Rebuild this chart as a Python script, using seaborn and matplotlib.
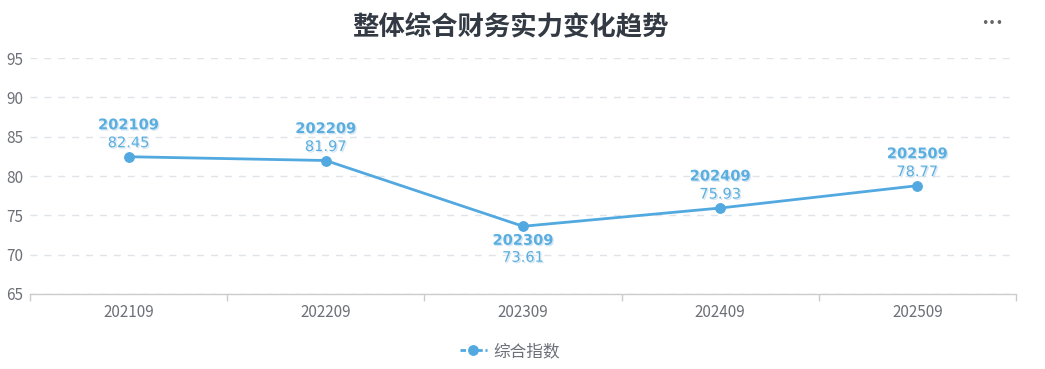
import matplotlib
matplotlib.use("Agg")
import matplotlib.pyplot as plt
import matplotlib.patheffects as pe
import seaborn as sns
import pandas as pd

periods = ["202109", "202209", "202309", "202409", "202509"]
values = [82.45, 81.97, 73.61, 75.93, 78.77]
label_below = [False, False, True, False, False]
series_name = "综合指数"
title = "整体综合财务实力变化趋势"
yticks = [65, 70, 75, 80, 85, 90, 95]

sns.set_theme(style="white")
plt.rcParams['font.family'] = ['Noto Sans CJK SC', 'DejaVu Sans']

df = pd.DataFrame({"period": periods, "value": values})
df["x"] = range(len(periods))

fig = plt.figure(figsize=(10.45, 3.69), dpi=100)
ax = fig.add_axes([30/1045, 75/369, 986/1045, 236/369])

line_color = "#52a9e0"
label_color = "#5aaee0"
sns.lineplot(data=df, x="x", y="value", ax=ax, color=line_color, linewidth=2,
             marker="o", markersize=7, markeredgecolor=line_color, label=series_name)

ax.set_xlim(-0.5, len(periods) - 0.5)
ax.set_ylim(65, 95)
ax.set_yticks(yticks)
ax.set_yticklabels([str(t) for t in yticks], color="#6e7079", fontsize=11)
ax.set_xticks(range(len(periods)))
ax.set_xticklabels(periods, color="#6e7079", fontsize=11)
ax.set_xticks([i - 0.5 for i in range(len(periods) + 1)], minor=True)
ax.tick_params(axis="x", which="major", length=0, pad=7, bottom=True)
ax.tick_params(axis="x", which="minor", length=5, color="#cccccc", width=1,
               direction="out", bottom=True)
ax.tick_params(axis="y", length=0, pad=5)
ax.set_xlabel("")
ax.set_ylabel("")

ax.grid(axis="y", color="#e0e3e8", linestyle=(0, (5, 5)), linewidth=1)
ax.set_axisbelow(True)
for s in ["top", "right", "left"]:
    ax.spines[s].set_visible(False)
ax.spines["bottom"].set_color("#cccccc")
ax.spines["bottom"].set_linewidth(1)

shadow = [pe.SimplePatchShadow(offset=(1, -1), shadow_rgbFace="#bcd6ea", alpha=0.6), pe.Normal()]
for i, (p, v) in enumerate(zip(periods, values)):
    if label_below[i]:
        off_name, off_val = -14, -31
    else:
        off_name, off_val = 32, 14
    ax.annotate(p, (i, v), xytext=(0, off_name), textcoords="offset pixels",
                ha="center", va="center", fontsize=10.5, fontweight="bold",
                color=label_color, family="DejaVu Sans", path_effects=shadow)
    ax.annotate(f"{v:.2f}", (i, v), xytext=(0, off_val), textcoords="offset pixels",
                ha="center", va="center", fontsize=10.5,
                color=label_color, family="DejaVu Sans", path_effects=shadow)

leg = ax.legend(loc="center", bbox_to_anchor=((510 - 30) / 986, -0.245), frameon=False,
                fontsize=12, handlelength=1.6, handletextpad=0.4)
for t in leg.get_texts():
    t.set_color("#6e7079")
for h in leg.get_lines():
    h.set_linestyle((0, (2, 1)))

fig.text(510/1045, 1 - 27/369, title, ha="center", va="center", fontsize=19,
         fontweight="bold", color="#333a44")
fig.text(992/1045, 1 - 23/369, "•••", ha="center", va="center", fontsize=9,
         color="#666666", family="DejaVu Sans")

fig.savefig("out.png", dpi=100)
